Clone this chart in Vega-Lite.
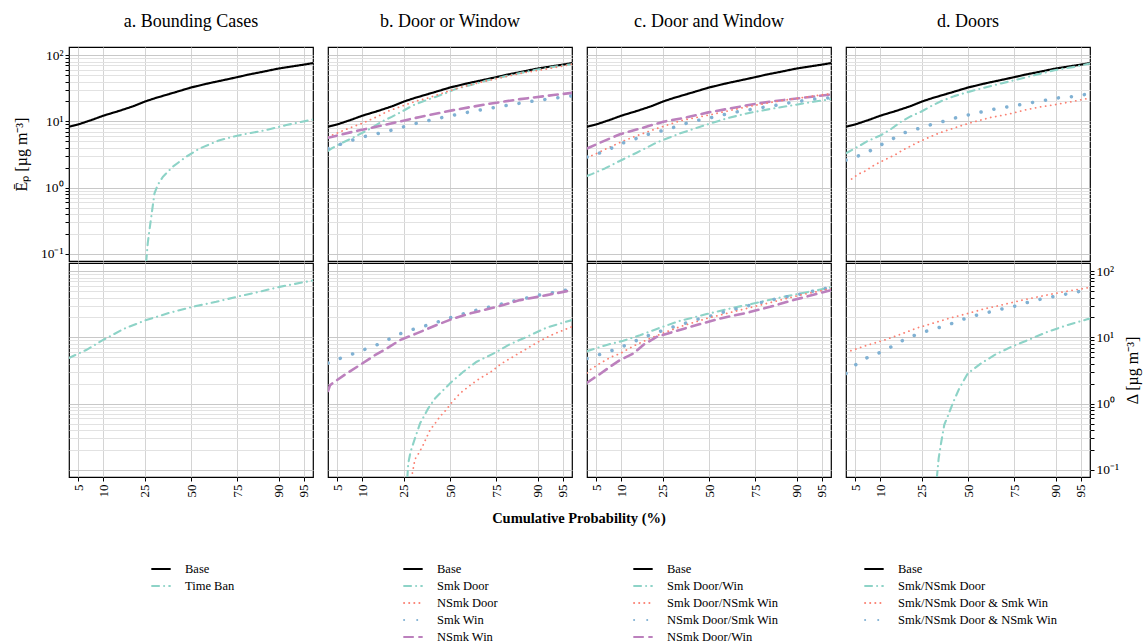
{
"$schema":"https://vega.github.io/schema/vega-lite/v6.json",
"background":"white",
"padding":{"left":12,"top":12,"right":5,"bottom":0},
"spacing":13,
"title":{"text":"Cumulative Probability (%)","orient":"bottom","offset":-132,"fontSize":14.5,"fontWeight":"bold","font":"Liberation Serif, Times New Roman, serif","anchor":"middle","frame":"bounds","dx":2},
"config":{"font":"Liberation Serif, Times New Roman, serif","view":{"stroke":"#000000","strokeWidth":1.2},
"axis":{"labelFont":"Liberation Serif, Times New Roman, serif","titleFont":"Liberation Serif, Times New Roman, serif","labelColor":"#000000","titleColor":"#000000","gridWidth":1,"tickColor":"#000000"},
"title":{"font":"Liberation Serif, Times New Roman, serif","fontWeight":"normal","fontSize":18,"color":"#000000","anchor":"middle"},
"legend":{"labelFont":"Liberation Serif, Times New Roman, serif","labelColor":"#000000"}},
"datasets":{"d":[
{"c":"all","r":"E","s":"Base","z":-1.78,"v":8.3},{"c":"all","r":"E","s":"Base","z":-1.645,"v":9.0},{"c":"all","r":"E","s":"Base","z":-1.44,"v":10.6},{"c":"all","r":"E","s":"Base","z":-1.28,"v":12.2},{"c":"all","r":"E","s":"Base","z":-1.04,"v":14.5},{"c":"all","r":"E","s":"Base","z":-0.84,"v":17.0},{"c":"all","r":"E","s":"Base","z":-0.67,"v":20.0},{"c":"all","r":"E","s":"Base","z":-0.52,"v":22.5},{"c":"all","r":"E","s":"Base","z":-0.25,"v":27.2},{"c":"all","r":"E","s":"Base","z":0,"v":32.5},{"c":"all","r":"E","s":"Base","z":0.25,"v":37.5},{"c":"all","r":"E","s":"Base","z":0.52,"v":43},{"c":"all","r":"E","s":"Base","z":0.67,"v":46.5},{"c":"all","r":"E","s":"Base","z":0.84,"v":51},{"c":"all","r":"E","s":"Base","z":1.04,"v":56},{"c":"all","r":"E","s":"Base","z":1.28,"v":63},{"c":"all","r":"E","s":"Base","z":1.645,"v":72},{"c":"all","r":"E","s":"Base","z":1.78,"v":76},

{"c":"a","r":"E","s":"Time Ban","z":-0.654,"v":0.075},{"c":"a","r":"E","s":"Time Ban","z":-0.631,"v":0.145},{"c":"a","r":"E","s":"Time Ban","z":-0.606,"v":0.23},{"c":"a","r":"E","s":"Time Ban","z":-0.566,"v":0.46},{"c":"a","r":"E","s":"Time Ban","z":-0.533,"v":0.82},{"c":"a","r":"E","s":"Time Ban","z":-0.485,"v":1.1},{"c":"a","r":"E","s":"Time Ban","z":-0.412,"v":1.45},{"c":"a","r":"E","s":"Time Ban","z":-0.266,"v":2.07},{"c":"a","r":"E","s":"Time Ban","z":-0.07,"v":2.93},{"c":"a","r":"E","s":"Time Ban","z":0.124,"v":3.9},{"c":"a","r":"E","s":"Time Ban","z":0.416,"v":5.2},{"c":"a","r":"E","s":"Time Ban","z":0.708,"v":6.2},{"c":"a","r":"E","s":"Time Ban","z":1.098,"v":7.4},{"c":"a","r":"E","s":"Time Ban","z":1.39,"v":8.8},{"c":"a","r":"E","s":"Time Ban","z":1.78,"v":10.7},

{"c":"a","r":"D","s":"Time Ban","z":-1.78,"v":4.9},{"c":"a","r":"D","s":"Time Ban","z":-1.53,"v":6.45},{"c":"a","r":"D","s":"Time Ban","z":-1.288,"v":9.1},{"c":"a","r":"D","s":"Time Ban","z":-0.971,"v":13.6},{"c":"a","r":"D","s":"Time Ban","z":-0.654,"v":18.3},{"c":"a","r":"D","s":"Time Ban","z":-0.314,"v":23.5},{"c":"a","r":"D","s":"Time Ban","z":0.026,"v":29},{"c":"a","r":"D","s":"Time Ban","z":0.368,"v":34.5},{"c":"a","r":"D","s":"Time Ban","z":0.708,"v":42},{"c":"a","r":"D","s":"Time Ban","z":1.0,"v":48.9},{"c":"a","r":"D","s":"Time Ban","z":1.292,"v":58},{"c":"a","r":"D","s":"Time Ban","z":1.78,"v":72.5},

{"c":"b","r":"E","s":"Smk Door","z":-1.78,"v":3.6},{"c":"b","r":"E","s":"Smk Door","z":-1.742,"v":3.83},{"c":"b","r":"E","s":"Smk Door","z":-1.59,"v":4.67},{"c":"b","r":"E","s":"Smk Door","z":-1.435,"v":5.55},{"c":"b","r":"E","s":"Smk Door","z":-1.17,"v":7.7},{"c":"b","r":"E","s":"Smk Door","z":-0.997,"v":9.9},{"c":"b","r":"E","s":"Smk Door","z":-0.851,"v":11.7},{"c":"b","r":"E","s":"Smk Door","z":-0.69,"v":14.3},{"c":"b","r":"E","s":"Smk Door","z":-0.545,"v":17.4},{"c":"b","r":"E","s":"Smk Door","z":-0.39,"v":20.2},{"c":"b","r":"E","s":"Smk Door","z":-0.234,"v":23},{"c":"b","r":"E","s":"Smk Door","z":-0.073,"v":26.4},{"c":"b","r":"E","s":"Smk Door","z":0.088,"v":31},{"c":"b","r":"E","s":"Smk Door","z":0.244,"v":34.1},{"c":"b","r":"E","s":"Smk Door","z":0.52,"v":41},{"c":"b","r":"E","s":"Smk Door","z":0.84,"v":49},{"c":"b","r":"E","s":"Smk Door","z":1.28,"v":61},{"c":"b","r":"E","s":"Smk Door","z":1.645,"v":70},{"c":"b","r":"E","s":"Smk Door","z":1.78,"v":73},

{"c":"b","r":"E","s":"NSmk Door","z":-1.78,"v":5.8},{"c":"b","r":"E","s":"NSmk Door","z":-1.752,"v":6.0},{"c":"b","r":"E","s":"NSmk Door","z":-1.508,"v":7.65},{"c":"b","r":"E","s":"NSmk Door","z":-1.266,"v":9.5},{"c":"b","r":"E","s":"NSmk Door","z":-1.047,"v":12},{"c":"b","r":"E","s":"NSmk Door","z":-0.924,"v":14},{"c":"b","r":"E","s":"NSmk Door","z":-0.705,"v":17},{"c":"b","r":"E","s":"NSmk Door","z":-0.486,"v":20.4},{"c":"b","r":"E","s":"NSmk Door","z":-0.34,"v":22.2},{"c":"b","r":"E","s":"NSmk Door","z":-0.098,"v":27},{"c":"b","r":"E","s":"NSmk Door","z":0.146,"v":32.6},{"c":"b","r":"E","s":"NSmk Door","z":0.536,"v":41},{"c":"b","r":"E","s":"NSmk Door","z":1.022,"v":53},{"c":"b","r":"E","s":"NSmk Door","z":1.508,"v":64.5},{"c":"b","r":"E","s":"NSmk Door","z":1.78,"v":73},

{"c":"b","r":"E","s":"Smk Win","z":-1.78,"v":3.9},{"c":"b","r":"E","s":"Smk Win","z":-1.727,"v":4.06},{"c":"b","r":"E","s":"Smk Win","z":-1.324,"v":5.66},{"c":"b","r":"E","s":"Smk Win","z":-0.909,"v":7.1},{"c":"b","r":"E","s":"Smk Win","z":-0.501,"v":9.3},{"c":"b","r":"E","s":"Smk Win","z":-0.088,"v":11.6},{"c":"b","r":"E","s":"Smk Win","z":0.331,"v":14.2},{"c":"b","r":"E","s":"Smk Win","z":0.755,"v":16.9},{"c":"b","r":"E","s":"Smk Win","z":1.168,"v":20},{"c":"b","r":"E","s":"Smk Win","z":1.596,"v":23},{"c":"b","r":"E","s":"Smk Win","z":1.78,"v":24.4},

{"c":"b","r":"E","s":"NSmk Win","z":-1.78,"v":5.66},{"c":"b","r":"E","s":"NSmk Win","z":-1.412,"v":7},{"c":"b","r":"E","s":"NSmk Win","z":-0.924,"v":9},{"c":"b","r":"E","s":"NSmk Win","z":-0.438,"v":11.7},{"c":"b","r":"E","s":"NSmk Win","z":0.048,"v":14.8},{"c":"b","r":"E","s":"NSmk Win","z":0.536,"v":18.2},{"c":"b","r":"E","s":"NSmk Win","z":1.022,"v":21.7},{"c":"b","r":"E","s":"NSmk Win","z":1.508,"v":25},{"c":"b","r":"E","s":"NSmk Win","z":1.78,"v":27},

{"c":"b","r":"D","s":"Smk Win","z":-1.78,"v":4.1},{"c":"b","r":"D","s":"Smk Win","z":-1.712,"v":4.4},{"c":"b","r":"D","s":"Smk Win","z":-1.508,"v":5.2},{"c":"b","r":"D","s":"Smk Win","z":-1.314,"v":6.2},{"c":"b","r":"D","s":"Smk Win","z":-1.12,"v":7.3},{"c":"b","r":"D","s":"Smk Win","z":-0.934,"v":8.9},{"c":"b","r":"D","s":"Smk Win","z":-0.755,"v":11.1},{"c":"b","r":"D","s":"Smk Win","z":-0.555,"v":13.1},{"c":"b","r":"D","s":"Smk Win","z":-0.35,"v":15.1},{"c":"b","r":"D","s":"Smk Win","z":-0.156,"v":17.4},{"c":"b","r":"D","s":"Smk Win","z":0.048,"v":20.5},{"c":"b","r":"D","s":"Smk Win","z":0.244,"v":23.5},{"c":"b","r":"D","s":"Smk Win","z":0.448,"v":26.8},{"c":"b","r":"D","s":"Smk Win","z":0.657,"v":30},{"c":"b","r":"D","s":"Smk Win","z":0.861,"v":34.1},{"c":"b","r":"D","s":"Smk Win","z":1.07,"v":38.3},{"c":"b","r":"D","s":"Smk Win","z":1.274,"v":43},{"c":"b","r":"D","s":"Smk Win","z":1.485,"v":47.2},{"c":"b","r":"D","s":"Smk Win","z":1.693,"v":51.8},{"c":"b","r":"D","s":"Smk Win","z":1.78,"v":53.5},

{"c":"b","r":"D","s":"NSmk Win","z":-1.78,"v":1.55},{"c":"b","r":"D","s":"NSmk Win","z":-1.75,"v":1.9},{"c":"b","r":"D","s":"NSmk Win","z":-1.704,"v":2.07},{"c":"b","r":"D","s":"NSmk Win","z":-1.508,"v":2.86},{"c":"b","r":"D","s":"NSmk Win","z":-1.314,"v":3.83},{"c":"b","r":"D","s":"NSmk Win","z":-1.095,"v":5.4},{"c":"b","r":"D","s":"NSmk Win","z":-0.924,"v":6.8},{"c":"b","r":"D","s":"NSmk Win","z":-0.73,"v":9.1},{"c":"b","r":"D","s":"NSmk Win","z":-0.486,"v":11.5},{"c":"b","r":"D","s":"NSmk Win","z":-0.194,"v":15.4},{"c":"b","r":"D","s":"NSmk Win","z":0.048,"v":19.3},{"c":"b","r":"D","s":"NSmk Win","z":0.292,"v":23},{"c":"b","r":"D","s":"NSmk Win","z":0.682,"v":29},{"c":"b","r":"D","s":"NSmk Win","z":1.022,"v":36.6},{"c":"b","r":"D","s":"NSmk Win","z":1.412,"v":43.5},{"c":"b","r":"D","s":"NSmk Win","z":1.78,"v":51.8},

{"c":"b","r":"D","s":"Smk Door","z":-0.623,"v":0.075},{"c":"b","r":"D","s":"Smk Door","z":-0.609,"v":0.126},{"c":"b","r":"D","s":"Smk Door","z":-0.574,"v":0.19},{"c":"b","r":"D","s":"Smk Door","z":-0.511,"v":0.3},{"c":"b","r":"D","s":"Smk Door","z":-0.438,"v":0.5},{"c":"b","r":"D","s":"Smk Door","z":-0.317,"v":0.85},{"c":"b","r":"D","s":"Smk Door","z":-0.219,"v":1.2},{"c":"b","r":"D","s":"Smk Door","z":-0.098,"v":1.6},{"c":"b","r":"D","s":"Smk Door","z":0.025,"v":2.14},{"c":"b","r":"D","s":"Smk Door","z":0.194,"v":3.03},{"c":"b","r":"D","s":"Smk Door","z":0.39,"v":4.3},{"c":"b","r":"D","s":"Smk Door","z":0.632,"v":5.7},{"c":"b","r":"D","s":"Smk Door","z":0.876,"v":7.9},{"c":"b","r":"D","s":"Smk Door","z":1.12,"v":10.2},{"c":"b","r":"D","s":"Smk Door","z":1.412,"v":14.1},{"c":"b","r":"D","s":"Smk Door","z":1.78,"v":18.3},

{"c":"b","r":"D","s":"NSmk Door","z":-0.562,"v":0.075},{"c":"b","r":"D","s":"NSmk Door","z":-0.511,"v":0.145},{"c":"b","r":"D","s":"NSmk Door","z":-0.453,"v":0.18},{"c":"b","r":"D","s":"NSmk Door","z":-0.39,"v":0.24},{"c":"b","r":"D","s":"NSmk Door","z":-0.292,"v":0.4},{"c":"b","r":"D","s":"NSmk Door","z":-0.219,"v":0.5},{"c":"b","r":"D","s":"NSmk Door","z":-0.146,"v":0.64},{"c":"b","r":"D","s":"NSmk Door","z":-0.058,"v":0.8},{"c":"b","r":"D","s":"NSmk Door","z":0.015,"v":1.01},{"c":"b","r":"D","s":"NSmk Door","z":0.146,"v":1.43},{"c":"b","r":"D","s":"NSmk Door","z":0.267,"v":1.8},{"c":"b","r":"D","s":"NSmk Door","z":0.365,"v":2.14},{"c":"b","r":"D","s":"NSmk Door","z":0.463,"v":2.5},{"c":"b","r":"D","s":"NSmk Door","z":0.584,"v":2.95},{"c":"b","r":"D","s":"NSmk Door","z":0.755,"v":4.05},{"c":"b","r":"D","s":"NSmk Door","z":0.876,"v":4.8},{"c":"b","r":"D","s":"NSmk Door","z":1.07,"v":6.3},{"c":"b","r":"D","s":"NSmk Door","z":1.289,"v":8.6},{"c":"b","r":"D","s":"NSmk Door","z":1.508,"v":11.2},{"c":"b","r":"D","s":"NSmk Door","z":1.742,"v":14},{"c":"b","r":"D","s":"NSmk Door","z":1.78,"v":14.5},

{"c":"c","r":"E","s":"NSmk Door/Win","z":-1.78,"v":3.9},{"c":"c","r":"E","s":"NSmk Door/Win","z":-1.591,"v":4.77},{"c":"c","r":"E","s":"NSmk Door/Win","z":-1.299,"v":6.4},{"c":"c","r":"E","s":"NSmk Door/Win","z":-1.007,"v":7.8},{"c":"c","r":"E","s":"NSmk Door/Win","z":-0.667,"v":9.9},{"c":"c","r":"E","s":"NSmk Door/Win","z":-0.326,"v":11.5},{"c":"c","r":"E","s":"NSmk Door/Win","z":-0.01,"v":13.7},{"c":"c","r":"E","s":"NSmk Door/Win","z":0.307,"v":15.7},{"c":"c","r":"E","s":"NSmk Door/Win","z":0.647,"v":18.2},{"c":"c","r":"E","s":"NSmk Door/Win","z":0.939,"v":20.2},{"c":"c","r":"E","s":"NSmk Door/Win","z":1.28,"v":22.2},{"c":"c","r":"E","s":"NSmk Door/Win","z":1.62,"v":24.4},{"c":"c","r":"E","s":"NSmk Door/Win","z":1.78,"v":25.5},

{"c":"c","r":"E","s":"Smk Door/NSmk Win","z":-1.78,"v":2.9},{"c":"c","r":"E","s":"Smk Door/NSmk Win","z":-1.689,"v":3.1},{"c":"c","r":"E","s":"Smk Door/NSmk Win","z":-1.493,"v":3.9},{"c":"c","r":"E","s":"Smk Door/NSmk Win","z":-1.251,"v":5.05},{"c":"c","r":"E","s":"Smk Door/NSmk Win","z":-1.032,"v":6.2},{"c":"c","r":"E","s":"Smk Door/NSmk Win","z":-0.788,"v":7.65},{"c":"c","r":"E","s":"Smk Door/NSmk Win","z":-0.423,"v":10.2},{"c":"c","r":"E","s":"Smk Door/NSmk Win","z":0.063,"v":12.9},{"c":"c","r":"E","s":"Smk Door/NSmk Win","z":0.55,"v":16.6},{"c":"c","r":"E","s":"Smk Door/NSmk Win","z":1.036,"v":20.5},{"c":"c","r":"E","s":"Smk Door/NSmk Win","z":1.718,"v":25.8},{"c":"c","r":"E","s":"Smk Door/NSmk Win","z":1.78,"v":26.3},

{"c":"c","r":"E","s":"NSmk Door/Smk Win","z":-1.78,"v":2.9},{"c":"c","r":"E","s":"NSmk Door/Smk Win","z":-1.689,"v":3.07},{"c":"c","r":"E","s":"NSmk Door/Smk Win","z":-1.479,"v":3.7},{"c":"c","r":"E","s":"NSmk Door/Smk Win","z":-1.289,"v":4.6},{"c":"c","r":"E","s":"NSmk Door/Smk Win","z":-1.091,"v":5.36},{"c":"c","r":"E","s":"NSmk Door/Smk Win","z":-0.895,"v":6.37},{"c":"c","r":"E","s":"NSmk Door/Smk Win","z":-0.691,"v":7.2},{"c":"c","r":"E","s":"NSmk Door/Smk Win","z":-0.486,"v":8.3},{"c":"c","r":"E","s":"NSmk Door/Smk Win","z":-0.288,"v":9.67},{"c":"c","r":"E","s":"NSmk Door/Smk Win","z":-0.083,"v":10.8},{"c":"c","r":"E","s":"NSmk Door/Smk Win","z":0.127,"v":12},{"c":"c","r":"E","s":"NSmk Door/Smk Win","z":0.331,"v":13.5},{"c":"c","r":"E","s":"NSmk Door/Smk Win","z":0.54,"v":14.7},{"c":"c","r":"E","s":"NSmk Door/Smk Win","z":0.755,"v":16.1},{"c":"c","r":"E","s":"NSmk Door/Smk Win","z":0.964,"v":17.4},{"c":"c","r":"E","s":"NSmk Door/Smk Win","z":1.172,"v":19.1},{"c":"c","r":"E","s":"NSmk Door/Smk Win","z":1.391,"v":20.7},{"c":"c","r":"E","s":"NSmk Door/Smk Win","z":1.61,"v":22.2},{"c":"c","r":"E","s":"NSmk Door/Smk Win","z":1.78,"v":22.8},

{"c":"c","r":"E","s":"Smk Door/Win","z":-1.78,"v":1.5},{"c":"c","r":"E","s":"Smk Door/Win","z":-1.712,"v":1.6},{"c":"c","r":"E","s":"Smk Door/Win","z":-1.518,"v":1.95},{"c":"c","r":"E","s":"Smk Door/Win","z":-1.347,"v":2.4},{"c":"c","r":"E","s":"Smk Door/Win","z":-1.055,"v":3.37},{"c":"c","r":"E","s":"Smk Door/Win","z":-0.764,"v":4.8},{"c":"c","r":"E","s":"Smk Door/Win","z":-0.423,"v":6.6},{"c":"c","r":"E","s":"Smk Door/Win","z":-0.083,"v":8.6},{"c":"c","r":"E","s":"Smk Door/Win","z":0.258,"v":11.1},{"c":"c","r":"E","s":"Smk Door/Win","z":0.55,"v":13.2},{"c":"c","r":"E","s":"Smk Door/Win","z":0.891,"v":15.4},{"c":"c","r":"E","s":"Smk Door/Win","z":1.231,"v":17.6},{"c":"c","r":"E","s":"Smk Door/Win","z":1.523,"v":19.8},{"c":"c","r":"E","s":"Smk Door/Win","z":1.78,"v":21.7},

{"c":"c","r":"D","s":"Smk Door/Win","z":-1.78,"v":6.2},{"c":"c","r":"D","s":"Smk Door/Win","z":-1.493,"v":7.7},{"c":"c","r":"D","s":"Smk Door/Win","z":-1.251,"v":8.9},{"c":"c","r":"D","s":"Smk Door/Win","z":-1.007,"v":10.8},{"c":"c","r":"D","s":"Smk Door/Win","z":-0.715,"v":14},{"c":"c","r":"D","s":"Smk Door/Win","z":-0.423,"v":17.8},{"c":"c","r":"D","s":"Smk Door/Win","z":-0.034,"v":22.5},{"c":"c","r":"D","s":"Smk Door/Win","z":0.307,"v":27.3},{"c":"c","r":"D","s":"Smk Door/Win","z":0.647,"v":32.5},{"c":"c","r":"D","s":"Smk Door/Win","z":1.036,"v":40},{"c":"c","r":"D","s":"Smk Door/Win","z":1.328,"v":46},{"c":"c","r":"D","s":"Smk Door/Win","z":1.742,"v":56},{"c":"c","r":"D","s":"Smk Door/Win","z":1.78,"v":57},

{"c":"c","r":"D","s":"NSmk Door/Smk Win","z":-1.78,"v":4.8},{"c":"c","r":"D","s":"NSmk Door/Smk Win","z":-1.747,"v":4.93},{"c":"c","r":"D","s":"NSmk Door/Smk Win","z":-1.552,"v":5.7},{"c":"c","r":"D","s":"NSmk Door/Smk Win","z":-1.347,"v":6.7},{"c":"c","r":"D","s":"NSmk Door/Smk Win","z":-1.153,"v":8.1},{"c":"c","r":"D","s":"NSmk Door/Smk Win","z":-0.968,"v":9.9},{"c":"c","r":"D","s":"NSmk Door/Smk Win","z":-0.774,"v":11.7},{"c":"c","r":"D","s":"NSmk Door/Smk Win","z":-0.58,"v":13.8},{"c":"c","r":"D","s":"NSmk Door/Smk Win","z":-0.384,"v":15.9},{"c":"c","r":"D","s":"NSmk Door/Smk Win","z":-0.18,"v":18.7},{"c":"c","r":"D","s":"NSmk Door/Smk Win","z":0.025,"v":21},{"c":"c","r":"D","s":"NSmk Door/Smk Win","z":0.223,"v":24.4},{"c":"c","r":"D","s":"NSmk Door/Smk Win","z":0.428,"v":27.4},{"c":"c","r":"D","s":"NSmk Door/Smk Win","z":0.638,"v":31.4},{"c":"c","r":"D","s":"NSmk Door/Smk Win","z":0.842,"v":35.3},{"c":"c","r":"D","s":"NSmk Door/Smk Win","z":1.051,"v":39.6},{"c":"c","r":"D","s":"NSmk Door/Smk Win","z":1.266,"v":43.5},{"c":"c","r":"D","s":"NSmk Door/Smk Win","z":1.474,"v":48.8},{"c":"c","r":"D","s":"NSmk Door/Smk Win","z":1.693,"v":54.8},{"c":"c","r":"D","s":"NSmk Door/Smk Win","z":1.78,"v":56},

{"c":"c","r":"D","s":"Smk Door/NSmk Win","z":-1.78,"v":2.9},{"c":"c","r":"D","s":"Smk Door/NSmk Win","z":-1.727,"v":3.29},{"c":"c","r":"D","s":"Smk Door/NSmk Win","z":-1.591,"v":4.05},{"c":"c","r":"D","s":"Smk Door/NSmk Win","z":-1.42,"v":5.1},{"c":"c","r":"D","s":"Smk Door/NSmk Win","z":-1.299,"v":5.7},{"c":"c","r":"D","s":"Smk Door/NSmk Win","z":-1.105,"v":7.4},{"c":"c","r":"D","s":"Smk Door/NSmk Win","z":-0.861,"v":9.66},{"c":"c","r":"D","s":"Smk Door/NSmk Win","z":-0.618,"v":12.2},{"c":"c","r":"D","s":"Smk Door/NSmk Win","z":-0.423,"v":14.5},{"c":"c","r":"D","s":"Smk Door/NSmk Win","z":-0.034,"v":19.3},{"c":"c","r":"D","s":"Smk Door/NSmk Win","z":0.355,"v":24.4},{"c":"c","r":"D","s":"Smk Door/NSmk Win","z":0.647,"v":29},{"c":"c","r":"D","s":"Smk Door/NSmk Win","z":1.036,"v":36.6},{"c":"c","r":"D","s":"Smk Door/NSmk Win","z":1.328,"v":43.5},{"c":"c","r":"D","s":"Smk Door/NSmk Win","z":1.718,"v":52.8},{"c":"c","r":"D","s":"Smk Door/NSmk Win","z":1.78,"v":54},

{"c":"c","r":"D","s":"NSmk Door/Win","z":-1.78,"v":2.07},{"c":"c","r":"D","s":"NSmk Door/Win","z":-1.689,"v":2.4},{"c":"c","r":"D","s":"NSmk Door/Win","z":-1.591,"v":2.8},{"c":"c","r":"D","s":"NSmk Door/Win","z":-1.445,"v":3.6},{"c":"c","r":"D","s":"NSmk Door/Win","z":-1.299,"v":4.55},{"c":"c","r":"D","s":"NSmk Door/Win","z":-1.105,"v":5.7},{"c":"c","r":"D","s":"NSmk Door/Win","z":-0.959,"v":7.7},{"c":"c","r":"D","s":"NSmk Door/Win","z":-0.764,"v":10.2},{"c":"c","r":"D","s":"NSmk Door/Win","z":-0.472,"v":12.6},{"c":"c","r":"D","s":"NSmk Door/Win","z":-0.18,"v":15.4},{"c":"c","r":"D","s":"NSmk Door/Win","z":0.161,"v":19.3},{"c":"c","r":"D","s":"NSmk Door/Win","z":0.55,"v":23.5},{"c":"c","r":"D","s":"NSmk Door/Win","z":0.891,"v":29},{"c":"c","r":"D","s":"NSmk Door/Win","z":1.231,"v":36.6},{"c":"c","r":"D","s":"NSmk Door/Win","z":1.523,"v":44},{"c":"c","r":"D","s":"NSmk Door/Win","z":1.78,"v":51.8},

{"c":"d","r":"E","s":"Smk/NSmk Door","z":-1.78,"v":3.3},{"c":"d","r":"E","s":"Smk/NSmk Door","z":-1.587,"v":4.25},{"c":"d","r":"E","s":"Smk/NSmk Door","z":-1.464,"v":5.05},{"c":"d","r":"E","s":"Smk/NSmk Door","z":-1.27,"v":6.2},{"c":"d","r":"E","s":"Smk/NSmk Door","z":-1.124,"v":7.66},{"c":"d","r":"E","s":"Smk/NSmk Door","z":-0.978,"v":9.9},{"c":"d","r":"E","s":"Smk/NSmk Door","z":-0.832,"v":12},{"c":"d","r":"E","s":"Smk/NSmk Door","z":-0.686,"v":14},{"c":"d","r":"E","s":"Smk/NSmk Door","z":-0.54,"v":17},{"c":"d","r":"E","s":"Smk/NSmk Door","z":-0.394,"v":20.2},{"c":"d","r":"E","s":"Smk/NSmk Door","z":-0.2,"v":24.1},{"c":"d","r":"E","s":"Smk/NSmk Door","z":-0.004,"v":27.7},{"c":"d","r":"E","s":"Smk/NSmk Door","z":0.19,"v":31.4},{"c":"d","r":"E","s":"Smk/NSmk Door","z":0.482,"v":37.4},{"c":"d","r":"E","s":"Smk/NSmk Door","z":0.872,"v":47},{"c":"d","r":"E","s":"Smk/NSmk Door","z":1.26,"v":59.4},{"c":"d","r":"E","s":"Smk/NSmk Door","z":1.552,"v":66.7},{"c":"d","r":"E","s":"Smk/NSmk Door","z":1.78,"v":75},

{"c":"d","r":"E","s":"Smk/NSmk Door & NSmk Win","z":-1.78,"v":2.6},{"c":"d","r":"E","s":"Smk/NSmk Door & NSmk Win","z":-1.669,"v":2.83},{"c":"d","r":"E","s":"Smk/NSmk Door & NSmk Win","z":-1.479,"v":3.37},{"c":"d","r":"E","s":"Smk/NSmk Door & NSmk Win","z":-1.304,"v":4.25},{"c":"d","r":"E","s":"Smk/NSmk Door & NSmk Win","z":-1.114,"v":5.36},{"c":"d","r":"E","s":"Smk/NSmk Door & NSmk Win","z":-0.939,"v":6.7},{"c":"d","r":"E","s":"Smk/NSmk Door & NSmk Win","z":-0.734,"v":7.74},{"c":"d","r":"E","s":"Smk/NSmk Door & NSmk Win","z":-0.53,"v":9.0},{"c":"d","r":"E","s":"Smk/NSmk Door & NSmk Win","z":-0.331,"v":10.2},{"c":"d","r":"E","s":"Smk/NSmk Door & NSmk Win","z":-0.131,"v":11.7},{"c":"d","r":"E","s":"Smk/NSmk Door & NSmk Win","z":0.077,"v":13},{"c":"d","r":"E","s":"Smk/NSmk Door & NSmk Win","z":0.277,"v":14.6},{"c":"d","r":"E","s":"Smk/NSmk Door & NSmk Win","z":0.496,"v":16.1},{"c":"d","r":"E","s":"Smk/NSmk Door & NSmk Win","z":0.701,"v":17.4},{"c":"d","r":"E","s":"Smk/NSmk Door & NSmk Win","z":0.909,"v":19.1},{"c":"d","r":"E","s":"Smk/NSmk Door & NSmk Win","z":1.124,"v":20.8},{"c":"d","r":"E","s":"Smk/NSmk Door & NSmk Win","z":1.333,"v":22.8},{"c":"d","r":"E","s":"Smk/NSmk Door & NSmk Win","z":1.552,"v":23.8},{"c":"d","r":"E","s":"Smk/NSmk Door & NSmk Win","z":1.78,"v":26.3},

{"c":"d","r":"E","s":"Smk/NSmk Door & Smk Win","z":-1.698,"v":1.35},{"c":"d","r":"E","s":"Smk/NSmk Door & Smk Win","z":-1.601,"v":1.6},{"c":"d","r":"E","s":"Smk/NSmk Door & Smk Win","z":-1.489,"v":1.8},{"c":"d","r":"E","s":"Smk/NSmk Door & Smk Win","z":-1.391,"v":2.12},{"c":"d","r":"E","s":"Smk/NSmk Door & Smk Win","z":-1.28,"v":2.44},{"c":"d","r":"E","s":"Smk/NSmk Door & Smk Win","z":-1.172,"v":2.77},{"c":"d","r":"E","s":"Smk/NSmk Door & Smk Win","z":-1.061,"v":3.14},{"c":"d","r":"E","s":"Smk/NSmk Door & Smk Win","z":-0.949,"v":3.7},{"c":"d","r":"E","s":"Smk/NSmk Door & Smk Win","z":-0.734,"v":4.82},{"c":"d","r":"E","s":"Smk/NSmk Door & Smk Win","z":-0.515,"v":6.08},{"c":"d","r":"E","s":"Smk/NSmk Door & Smk Win","z":-0.394,"v":6.83},{"c":"d","r":"E","s":"Smk/NSmk Door & Smk Win","z":-0.15,"v":8.3},{"c":"d","r":"E","s":"Smk/NSmk Door & Smk Win","z":0.092,"v":9.9},{"c":"d","r":"E","s":"Smk/NSmk Door & Smk Win","z":0.336,"v":11.5},{"c":"d","r":"E","s":"Smk/NSmk Door & Smk Win","z":0.58,"v":12.8},{"c":"d","r":"E","s":"Smk/NSmk Door & Smk Win","z":0.823,"v":14.8},{"c":"d","r":"E","s":"Smk/NSmk Door & Smk Win","z":1.066,"v":16.6},{"c":"d","r":"E","s":"Smk/NSmk Door & Smk Win","z":1.309,"v":18.2},{"c":"d","r":"E","s":"Smk/NSmk Door & Smk Win","z":1.552,"v":20.2},{"c":"d","r":"E","s":"Smk/NSmk Door & Smk Win","z":1.78,"v":22.5},

{"c":"d","r":"D","s":"Smk/NSmk Door & Smk Win","z":-1.708,"v":6.3},{"c":"d","r":"D","s":"Smk/NSmk Door & Smk Win","z":-1.464,"v":7.67},{"c":"d","r":"D","s":"Smk/NSmk Door & Smk Win","z":-1.222,"v":9.1},{"c":"d","r":"D","s":"Smk/NSmk Door & Smk Win","z":-0.978,"v":11.2},{"c":"d","r":"D","s":"Smk/NSmk Door & Smk Win","z":-0.734,"v":14},{"c":"d","r":"D","s":"Smk/NSmk Door & Smk Win","z":-0.492,"v":16.6},{"c":"d","r":"D","s":"Smk/NSmk Door & Smk Win","z":-0.248,"v":19.8},{"c":"d","r":"D","s":"Smk/NSmk Door & Smk Win","z":-0.004,"v":23},{"c":"d","r":"D","s":"Smk/NSmk Door & Smk Win","z":0.238,"v":27},{"c":"d","r":"D","s":"Smk/NSmk Door & Smk Win","z":0.482,"v":30.7},{"c":"d","r":"D","s":"Smk/NSmk Door & Smk Win","z":0.726,"v":35.3},{"c":"d","r":"D","s":"Smk/NSmk Door & Smk Win","z":0.968,"v":40},{"c":"d","r":"D","s":"Smk/NSmk Door & Smk Win","z":1.26,"v":46},{"c":"d","r":"D","s":"Smk/NSmk Door & Smk Win","z":1.455,"v":50},{"c":"d","r":"D","s":"Smk/NSmk Door & Smk Win","z":1.601,"v":52.8},{"c":"d","r":"D","s":"Smk/NSmk Door & Smk Win","z":1.78,"v":57},

{"c":"d","r":"D","s":"Smk/NSmk Door & NSmk Win","z":-1.78,"v":2.86},{"c":"d","r":"D","s":"Smk/NSmk Door & NSmk Win","z":-1.645,"v":3.83},{"c":"d","r":"D","s":"Smk/NSmk Door & NSmk Win","z":-1.464,"v":5},{"c":"d","r":"D","s":"Smk/NSmk Door & NSmk Win","z":-1.28,"v":5.94},{"c":"d","r":"D","s":"Smk/NSmk Door & NSmk Win","z":-1.099,"v":7.4},{"c":"d","r":"D","s":"Smk/NSmk Door & NSmk Win","z":-0.915,"v":9.45},{"c":"d","r":"D","s":"Smk/NSmk Door & NSmk Win","z":-0.726,"v":11.3},{"c":"d","r":"D","s":"Smk/NSmk Door & NSmk Win","z":-0.526,"v":13.2},{"c":"d","r":"D","s":"Smk/NSmk Door & NSmk Win","z":-0.321,"v":15},{"c":"d","r":"D","s":"Smk/NSmk Door & NSmk Win","z":-0.127,"v":18},{"c":"d","r":"D","s":"Smk/NSmk Door & NSmk Win","z":0.069,"v":21},{"c":"d","r":"D","s":"Smk/NSmk Door & NSmk Win","z":0.277,"v":23.6},{"c":"d","r":"D","s":"Smk/NSmk Door & NSmk Win","z":0.482,"v":26.7},{"c":"d","r":"D","s":"Smk/NSmk Door & NSmk Win","z":0.686,"v":29.7},{"c":"d","r":"D","s":"Smk/NSmk Door & NSmk Win","z":0.895,"v":34.4},{"c":"d","r":"D","s":"Smk/NSmk Door & NSmk Win","z":1.105,"v":38.7},{"c":"d","r":"D","s":"Smk/NSmk Door & NSmk Win","z":1.309,"v":42.5},{"c":"d","r":"D","s":"Smk/NSmk Door & NSmk Win","z":1.518,"v":47.1},{"c":"d","r":"D","s":"Smk/NSmk Door & NSmk Win","z":1.733,"v":51.8},{"c":"d","r":"D","s":"Smk/NSmk Door & NSmk Win","z":1.78,"v":53},

{"c":"d","r":"D","s":"Smk/NSmk Door","z":-0.455,"v":0.075},{"c":"d","r":"D","s":"Smk/NSmk Door","z":-0.428,"v":0.149},{"c":"d","r":"D","s":"Smk/NSmk Door","z":-0.394,"v":0.25},{"c":"d","r":"D","s":"Smk/NSmk Door","z":-0.346,"v":0.48},{"c":"d","r":"D","s":"Smk/NSmk Door","z":-0.296,"v":0.64},{"c":"d","r":"D","s":"Smk/NSmk Door","z":-0.223,"v":1.01},{"c":"d","r":"D","s":"Smk/NSmk Door","z":-0.127,"v":1.7},{"c":"d","r":"D","s":"Smk/NSmk Door","z":-0.004,"v":2.86},{"c":"d","r":"D","s":"Smk/NSmk Door","z":0.19,"v":4.05},{"c":"d","r":"D","s":"Smk/NSmk Door","z":0.384,"v":5.4},{"c":"d","r":"D","s":"Smk/NSmk Door","z":0.628,"v":7.2},{"c":"d","r":"D","s":"Smk/NSmk Door","z":0.872,"v":9.1},{"c":"d","r":"D","s":"Smk/NSmk Door","z":1.164,"v":12.2},{"c":"d","r":"D","s":"Smk/NSmk Door","z":1.455,"v":15.4},{"c":"d","r":"D","s":"Smk/NSmk Door","z":1.747,"v":18.9},{"c":"d","r":"D","s":"Smk/NSmk Door","z":1.78,"v":19.2}
]},
"hconcat":[
{"vconcat":[
 {"width":244,"height":214,"title":{"text":"a. Bounding Cases","offset":16},"data":{"name":"d"},
  "transform":[{"filter":"datum.r=='E'&&(datum.c=='a'||datum.c=='all')"}],
  "mark":{"type":"line","clip":true,"strokeCap":"round","strokeJoin":"round"},
  "encoding":{
   "x":{"field":"z","type":"quantitative","scale":{"domain":[-1.78,1.78],"nice":false,"zero":false},"axis":{"values":[-1.6449,-1.2816,-0.6745,0,0.6745,1.2816,1.6449],"labels":false,"ticks":false,"domain":false,"title":null,"gridColor":"#d4d4d4"}},
   "y":{"field":"v","type":"quantitative","scale":{"type":"log","domain":[0.078,133],"nice":false},"axis":{"values":[0.1,0.2,0.3,0.4,0.5,0.6,0.7,0.8,0.9,1,2,3,4,5,6,7,8,9,10,20,30,40,50,60,70,80,90,100],"labelExpr":"datum.value==100?'10²':datum.value==10?'10¹':datum.value==1?'10⁰':datum.value==0.1?'10⁻¹':''","title":"Ēₚ  [µg m⁻³]","titleFontSize":16,"titleFontWeight":"normal","titlePadding":11,"labelFontSize":13.5,"labelPadding":2,"labelFont":"Liberation Serif, Times New Roman, serif","titleFont":"Liberation Serif, Times New Roman, serif","domain":false,"tickSize":4,"gridColor":{"condition":{"test":"datum.value==0.1||datum.value==1||datum.value==10||datum.value==100","value":"#c8c8c8"},"value":"#e2e2e2"}}},
   "color":{"field":"s","type":"nominal","scale":{"domain":["Base","Time Ban"],"range":["#000000","#8dd3c7"]},"legend":{"title":null,"orient":"none","legendX":82,"legendY":512,"direction":"vertical","symbolType":"stroke","symbolSize":320,"symbolStrokeWidth":2,"labelFontSize":12.5,"labelFont":"Liberation Serif, Times New Roman, serif","labelOffset":14,"rowPadding":0,"encode":{"symbols":{"update":{"strokeCap":{"value":"round"}}}}}},
   "strokeDash":{"field":"s","type":"nominal","scale":{"domain":["Base","Time Ban"],"range":[[1,0],[7,5,0.1,5]]},"legend":{"title":null,"orient":"none","legendX":82,"legendY":512,"direction":"vertical","symbolType":"stroke","symbolSize":320,"symbolStrokeWidth":2,"labelFontSize":12.5,"labelFont":"Liberation Serif, Times New Roman, serif","labelOffset":14,"rowPadding":0,"encode":{"symbols":{"update":{"strokeCap":{"value":"round"}}}}}},
   "strokeWidth":{"value":2.1}
  }},
 {"width":244,"height":214,"data":{"name":"d"},
  "transform":[{"filter":"datum.r=='D'&&datum.c=='a'"}],
  "mark":{"type":"line","clip":true,"strokeCap":"round","strokeJoin":"round"},
  "encoding":{
   "x":{"field":"z","type":"quantitative","scale":{"domain":[-1.78,1.78],"nice":false,"zero":false},"axis":{"values":[-1.6449,-1.2816,-0.6745,0,0.6745,1.2816,1.6449],"labelExpr":"datum.value<-1.5?'5':datum.value<-1?'10':datum.value<-0.3?'25':datum.value<0.3?'50':datum.value<1?'75':datum.value<1.5?'90':'95'","labelAngle":-90,"labelFontSize":13,"labelFont":"Liberation Serif, Times New Roman, serif","labelPadding":3,"tickSize":4,"domain":false,"title":null,"gridColor":"#d4d4d4"}},
   "y":{"field":"v","type":"quantitative","scale":{"type":"log","domain":[0.078,133],"nice":false},"axis":{"values":[0.1,0.2,0.3,0.4,0.5,0.6,0.7,0.8,0.9,1,2,3,4,5,6,7,8,9,10,20,30,40,50,60,70,80,90,100],"labels":false,"ticks":false,"domain":false,"title":null,"gridColor":{"condition":{"test":"datum.value==0.1||datum.value==1||datum.value==10||datum.value==100","value":"#c8c8c8"},"value":"#e2e2e2"}}},
   "color":{"field":"s","type":"nominal","scale":{"domain":["Base","Time Ban"],"range":["#000000","#8dd3c7"]},"legend":{"title":null,"orient":"none","legendX":82,"legendY":512,"direction":"vertical","symbolType":"stroke","symbolSize":320,"symbolStrokeWidth":2,"labelFontSize":12.5,"labelFont":"Liberation Serif, Times New Roman, serif","labelOffset":14,"rowPadding":0,"encode":{"symbols":{"update":{"strokeCap":{"value":"round"}}}}}},
   "strokeDash":{"field":"s","type":"nominal","scale":{"domain":["Base","Time Ban"],"range":[[1,0],[7,5,0.1,5]]},"legend":{"title":null,"orient":"none","legendX":82,"legendY":512,"direction":"vertical","symbolType":"stroke","symbolSize":320,"symbolStrokeWidth":2,"labelFontSize":12.5,"labelFont":"Liberation Serif, Times New Roman, serif","labelOffset":14,"rowPadding":0,"encode":{"symbols":{"update":{"strokeCap":{"value":"round"}}}}}},
   "strokeWidth":{"value":2.1}
  }}
 ],"spacing":0,"resolve":{"scale":{"color":"shared","strokeDash":"shared"}}},

{"vconcat":[
 {"width":244,"height":214,"title":{"text":"b. Door or Window","offset":16},"data":{"name":"d"},
  "transform":[{"filter":"datum.r=='E'&&(datum.c=='b'||datum.c=='all')"}],
  "mark":{"type":"line","clip":true,"strokeCap":"round","strokeJoin":"round"},
  "encoding":{
   "x":{"field":"z","type":"quantitative","scale":{"domain":[-1.78,1.78],"nice":false,"zero":false},"axis":{"values":[-1.6449,-1.2816,-0.6745,0,0.6745,1.2816,1.6449],"labels":false,"ticks":false,"domain":false,"title":null,"gridColor":"#d4d4d4"}},
   "y":{"field":"v","type":"quantitative","scale":{"type":"log","domain":[0.078,133],"nice":false},"axis":{"values":[0.1,0.2,0.3,0.4,0.5,0.6,0.7,0.8,0.9,1,2,3,4,5,6,7,8,9,10,20,30,40,50,60,70,80,90,100],"labels":false,"ticks":false,"domain":false,"title":null,"gridColor":{"condition":{"test":"datum.value==0.1||datum.value==1||datum.value==10||datum.value==100","value":"#c8c8c8"},"value":"#e2e2e2"}}},
   "color":{"field":"s","type":"nominal","scale":{"domain":["Base","Smk Door","NSmk Door","Smk Win","NSmk Win"],"range":["#000000","#8dd3c7","#fb8072","#80b1d3","#bc80bd"]},"legend":{"title":null,"orient":"none","legendX":75,"legendY":512,"direction":"vertical","symbolType":"stroke","symbolSize":320,"symbolStrokeWidth":2,"labelFontSize":12.5,"labelFont":"Liberation Serif, Times New Roman, serif","labelOffset":14,"rowPadding":0,"encode":{"symbols":{"update":{"strokeCap":{"value":"round"}}}}}},
   "strokeDash":{"field":"s","type":"nominal","scale":{"domain":["Base","Smk Door","NSmk Door","Smk Win","NSmk Win"],"range":[[1,0],[7,5,0.1,5],[0.1,5],[0.1,13],[9,6]]},"legend":{"title":null,"orient":"none","legendX":75,"legendY":512,"direction":"vertical","symbolType":"stroke","symbolSize":320,"symbolStrokeWidth":2,"labelFontSize":12.5,"labelFont":"Liberation Serif, Times New Roman, serif","labelOffset":14,"rowPadding":0,"encode":{"symbols":{"update":{"strokeCap":{"value":"round"}}}}}},
   "strokeWidth":{"condition":[{"test":"datum.s=='Smk Win'","value":3.5},{"test":"datum.s=='NSmk Win'","value":2.6},{"test":"datum.s=='NSmk Door'","value":1.8}],"value":2.1}
  }},
 {"width":244,"height":214,"data":{"name":"d"},
  "transform":[{"filter":"datum.r=='D'&&datum.c=='b'"}],
  "mark":{"type":"line","clip":true,"strokeCap":"round","strokeJoin":"round"},
  "encoding":{
   "x":{"field":"z","type":"quantitative","scale":{"domain":[-1.78,1.78],"nice":false,"zero":false},"axis":{"values":[-1.6449,-1.2816,-0.6745,0,0.6745,1.2816,1.6449],"labelExpr":"datum.value<-1.5?'5':datum.value<-1?'10':datum.value<-0.3?'25':datum.value<0.3?'50':datum.value<1?'75':datum.value<1.5?'90':'95'","labelAngle":-90,"labelFontSize":13,"labelFont":"Liberation Serif, Times New Roman, serif","labelPadding":3,"tickSize":4,"domain":false,"title":null,"gridColor":"#d4d4d4"}},
   "y":{"field":"v","type":"quantitative","scale":{"type":"log","domain":[0.078,133],"nice":false},"axis":{"values":[0.1,0.2,0.3,0.4,0.5,0.6,0.7,0.8,0.9,1,2,3,4,5,6,7,8,9,10,20,30,40,50,60,70,80,90,100],"labels":false,"ticks":false,"domain":false,"title":null,"gridColor":{"condition":{"test":"datum.value==0.1||datum.value==1||datum.value==10||datum.value==100","value":"#c8c8c8"},"value":"#e2e2e2"}}},
   "color":{"field":"s","type":"nominal","scale":{"domain":["Base","Smk Door","NSmk Door","Smk Win","NSmk Win"],"range":["#000000","#8dd3c7","#fb8072","#80b1d3","#bc80bd"]},"legend":{"title":null,"orient":"none","legendX":75,"legendY":512,"direction":"vertical","symbolType":"stroke","symbolSize":320,"symbolStrokeWidth":2,"labelFontSize":12.5,"labelFont":"Liberation Serif, Times New Roman, serif","labelOffset":14,"rowPadding":0,"encode":{"symbols":{"update":{"strokeCap":{"value":"round"}}}}}},
   "strokeDash":{"field":"s","type":"nominal","scale":{"domain":["Base","Smk Door","NSmk Door","Smk Win","NSmk Win"],"range":[[1,0],[7,5,0.1,5],[0.1,5],[0.1,13],[9,6]]},"legend":{"title":null,"orient":"none","legendX":75,"legendY":512,"direction":"vertical","symbolType":"stroke","symbolSize":320,"symbolStrokeWidth":2,"labelFontSize":12.5,"labelFont":"Liberation Serif, Times New Roman, serif","labelOffset":14,"rowPadding":0,"encode":{"symbols":{"update":{"strokeCap":{"value":"round"}}}}}},
   "strokeWidth":{"condition":[{"test":"datum.s=='Smk Win'","value":3.5},{"test":"datum.s=='NSmk Win'","value":2.6},{"test":"datum.s=='NSmk Door'","value":1.8}],"value":2.1}
  }}
 ],"spacing":0,"resolve":{"scale":{"color":"shared","strokeDash":"shared"}}},

{"vconcat":[
 {"width":244,"height":214,"title":{"text":"c. Door and Window","offset":16},"data":{"name":"d"},
  "transform":[{"filter":"datum.r=='E'&&(datum.c=='c'||datum.c=='all')"}],
  "mark":{"type":"line","clip":true,"strokeCap":"round","strokeJoin":"round"},
  "encoding":{
   "x":{"field":"z","type":"quantitative","scale":{"domain":[-1.78,1.78],"nice":false,"zero":false},"axis":{"values":[-1.6449,-1.2816,-0.6745,0,0.6745,1.2816,1.6449],"labels":false,"ticks":false,"domain":false,"title":null,"gridColor":"#d4d4d4"}},
   "y":{"field":"v","type":"quantitative","scale":{"type":"log","domain":[0.078,133],"nice":false},"axis":{"values":[0.1,0.2,0.3,0.4,0.5,0.6,0.7,0.8,0.9,1,2,3,4,5,6,7,8,9,10,20,30,40,50,60,70,80,90,100],"labels":false,"ticks":false,"domain":false,"title":null,"gridColor":{"condition":{"test":"datum.value==0.1||datum.value==1||datum.value==10||datum.value==100","value":"#c8c8c8"},"value":"#e2e2e2"}}},
   "color":{"field":"s","type":"nominal","scale":{"domain":["Base","Smk Door/Win","Smk Door/NSmk Win","NSmk Door/Smk Win","NSmk Door/Win"],"range":["#000000","#8dd3c7","#fb8072","#80b1d3","#bc80bd"]},"legend":{"title":null,"orient":"none","legendX":46,"legendY":512,"direction":"vertical","symbolType":"stroke","symbolSize":320,"symbolStrokeWidth":2,"labelFontSize":12.5,"labelFont":"Liberation Serif, Times New Roman, serif","labelOffset":14,"rowPadding":0,"encode":{"symbols":{"update":{"strokeCap":{"value":"round"}}}}}},
   "strokeDash":{"field":"s","type":"nominal","scale":{"domain":["Base","Smk Door/Win","Smk Door/NSmk Win","NSmk Door/Smk Win","NSmk Door/Win"],"range":[[1,0],[7,5,0.1,5],[0.1,5],[0.1,13],[9,6]]},"legend":{"title":null,"orient":"none","legendX":46,"legendY":512,"direction":"vertical","symbolType":"stroke","symbolSize":320,"symbolStrokeWidth":2,"labelFontSize":12.5,"labelFont":"Liberation Serif, Times New Roman, serif","labelOffset":14,"rowPadding":0,"encode":{"symbols":{"update":{"strokeCap":{"value":"round"}}}}}},
   "strokeWidth":{"condition":[{"test":"datum.s=='NSmk Door/Smk Win'","value":3.5},{"test":"datum.s=='NSmk Door/Win'","value":2.6},{"test":"datum.s=='Smk Door/NSmk Win'","value":1.8}],"value":2.1}
  }},
 {"width":244,"height":214,"data":{"name":"d"},
  "transform":[{"filter":"datum.r=='D'&&datum.c=='c'"}],
  "mark":{"type":"line","clip":true,"strokeCap":"round","strokeJoin":"round"},
  "encoding":{
   "x":{"field":"z","type":"quantitative","scale":{"domain":[-1.78,1.78],"nice":false,"zero":false},"axis":{"values":[-1.6449,-1.2816,-0.6745,0,0.6745,1.2816,1.6449],"labelExpr":"datum.value<-1.5?'5':datum.value<-1?'10':datum.value<-0.3?'25':datum.value<0.3?'50':datum.value<1?'75':datum.value<1.5?'90':'95'","labelAngle":-90,"labelFontSize":13,"labelFont":"Liberation Serif, Times New Roman, serif","labelPadding":3,"tickSize":4,"domain":false,"title":null,"gridColor":"#d4d4d4"}},
   "y":{"field":"v","type":"quantitative","scale":{"type":"log","domain":[0.078,133],"nice":false},"axis":{"values":[0.1,0.2,0.3,0.4,0.5,0.6,0.7,0.8,0.9,1,2,3,4,5,6,7,8,9,10,20,30,40,50,60,70,80,90,100],"labels":false,"ticks":false,"domain":false,"title":null,"gridColor":{"condition":{"test":"datum.value==0.1||datum.value==1||datum.value==10||datum.value==100","value":"#c8c8c8"},"value":"#e2e2e2"}}},
   "color":{"field":"s","type":"nominal","scale":{"domain":["Base","Smk Door/Win","Smk Door/NSmk Win","NSmk Door/Smk Win","NSmk Door/Win"],"range":["#000000","#8dd3c7","#fb8072","#80b1d3","#bc80bd"]},"legend":{"title":null,"orient":"none","legendX":46,"legendY":512,"direction":"vertical","symbolType":"stroke","symbolSize":320,"symbolStrokeWidth":2,"labelFontSize":12.5,"labelFont":"Liberation Serif, Times New Roman, serif","labelOffset":14,"rowPadding":0,"encode":{"symbols":{"update":{"strokeCap":{"value":"round"}}}}}},
   "strokeDash":{"field":"s","type":"nominal","scale":{"domain":["Base","Smk Door/Win","Smk Door/NSmk Win","NSmk Door/Smk Win","NSmk Door/Win"],"range":[[1,0],[7,5,0.1,5],[0.1,5],[0.1,13],[9,6]]},"legend":{"title":null,"orient":"none","legendX":46,"legendY":512,"direction":"vertical","symbolType":"stroke","symbolSize":320,"symbolStrokeWidth":2,"labelFontSize":12.5,"labelFont":"Liberation Serif, Times New Roman, serif","labelOffset":14,"rowPadding":0,"encode":{"symbols":{"update":{"strokeCap":{"value":"round"}}}}}},
   "strokeWidth":{"condition":[{"test":"datum.s=='NSmk Door/Smk Win'","value":3.5},{"test":"datum.s=='NSmk Door/Win'","value":2.6},{"test":"datum.s=='Smk Door/NSmk Win'","value":1.8}],"value":2.1}
  }}
 ],"spacing":0,"resolve":{"scale":{"color":"shared","strokeDash":"shared"}}},

{"vconcat":[
 {"width":244,"height":214,"title":{"text":"d. Doors","offset":16},"data":{"name":"d"},
  "transform":[{"filter":"datum.r=='E'&&(datum.c=='d'||datum.c=='all')"}],
  "mark":{"type":"line","clip":true,"strokeCap":"round","strokeJoin":"round"},
  "encoding":{
   "x":{"field":"z","type":"quantitative","scale":{"domain":[-1.78,1.78],"nice":false,"zero":false},"axis":{"values":[-1.6449,-1.2816,-0.6745,0,0.6745,1.2816,1.6449],"labels":false,"ticks":false,"domain":false,"title":null,"gridColor":"#d4d4d4"}},
   "y":{"field":"v","type":"quantitative","scale":{"type":"log","domain":[0.078,133],"nice":false},"axis":{"values":[0.1,0.2,0.3,0.4,0.5,0.6,0.7,0.8,0.9,1,2,3,4,5,6,7,8,9,10,20,30,40,50,60,70,80,90,100],"labels":false,"ticks":false,"domain":false,"title":null,"gridColor":{"condition":{"test":"datum.value==0.1||datum.value==1||datum.value==10||datum.value==100","value":"#c8c8c8"},"value":"#e2e2e2"}}},
   "color":{"field":"s","type":"nominal","scale":{"domain":["Base","Smk/NSmk Door","Smk/NSmk Door & Smk Win","Smk/NSmk Door & NSmk Win"],"range":["#000000","#8dd3c7","#fb8072","#80b1d3"]},"legend":{"title":null,"orient":"none","legendX":18,"legendY":512,"direction":"vertical","symbolType":"stroke","symbolSize":320,"symbolStrokeWidth":2,"labelFontSize":12.5,"labelFont":"Liberation Serif, Times New Roman, serif","labelOffset":14,"rowPadding":0,"encode":{"symbols":{"update":{"strokeCap":{"value":"round"}}}}}},
   "strokeDash":{"field":"s","type":"nominal","scale":{"domain":["Base","Smk/NSmk Door","Smk/NSmk Door & Smk Win","Smk/NSmk Door & NSmk Win"],"range":[[1,0],[7,5,0.1,5],[0.1,5],[0.1,13]]},"legend":{"title":null,"orient":"none","legendX":18,"legendY":512,"direction":"vertical","symbolType":"stroke","symbolSize":320,"symbolStrokeWidth":2,"labelFontSize":12.5,"labelFont":"Liberation Serif, Times New Roman, serif","labelOffset":14,"rowPadding":0,"encode":{"symbols":{"update":{"strokeCap":{"value":"round"}}}}}},
   "strokeWidth":{"condition":[{"test":"datum.s=='Smk/NSmk Door & NSmk Win'","value":3.5},{"test":"datum.s=='Smk/NSmk Door & Smk Win'","value":1.8}],"value":2.1}
  }},
 {"width":244,"height":214,"data":{"name":"d"},
  "transform":[{"filter":"datum.r=='D'&&datum.c=='d'"}],
  "mark":{"type":"line","clip":true,"strokeCap":"round","strokeJoin":"round"},
  "encoding":{
   "x":{"field":"z","type":"quantitative","scale":{"domain":[-1.78,1.78],"nice":false,"zero":false},"axis":{"values":[-1.6449,-1.2816,-0.6745,0,0.6745,1.2816,1.6449],"labelExpr":"datum.value<-1.5?'5':datum.value<-1?'10':datum.value<-0.3?'25':datum.value<0.3?'50':datum.value<1?'75':datum.value<1.5?'90':'95'","labelAngle":-90,"labelFontSize":13,"labelFont":"Liberation Serif, Times New Roman, serif","labelPadding":3,"tickSize":4,"domain":false,"title":null,"gridColor":"#d4d4d4"}},
   "y":{"field":"v","type":"quantitative","scale":{"type":"log","domain":[0.078,133],"nice":false},"axis":{"orient":"right","values":[0.1,0.2,0.3,0.4,0.5,0.6,0.7,0.8,0.9,1,2,3,4,5,6,7,8,9,10,20,30,40,50,60,70,80,90,100],"labelExpr":"datum.value==100?'10²':datum.value==10?'10¹':datum.value==1?'10⁰':datum.value==0.1?'10⁻¹':''","title":"Δ [µg m⁻³]","titleAngle":270,"titleBaseline":"top","titleFontSize":16,"titleFontWeight":"normal","titlePadding":6,"labelFontSize":13.5,"labelFont":"Liberation Serif, Times New Roman, serif","titleFont":"Liberation Serif, Times New Roman, serif","labelPadding":2,"domain":false,"tickSize":4,"gridColor":{"condition":{"test":"datum.value==0.1||datum.value==1||datum.value==10||datum.value==100","value":"#c8c8c8"},"value":"#e2e2e2"}}},
   "color":{"field":"s","type":"nominal","scale":{"domain":["Base","Smk/NSmk Door","Smk/NSmk Door & Smk Win","Smk/NSmk Door & NSmk Win"],"range":["#000000","#8dd3c7","#fb8072","#80b1d3"]},"legend":{"title":null,"orient":"none","legendX":18,"legendY":512,"direction":"vertical","symbolType":"stroke","symbolSize":320,"symbolStrokeWidth":2,"labelFontSize":12.5,"labelFont":"Liberation Serif, Times New Roman, serif","labelOffset":14,"rowPadding":0,"encode":{"symbols":{"update":{"strokeCap":{"value":"round"}}}}}},
   "strokeDash":{"field":"s","type":"nominal","scale":{"domain":["Base","Smk/NSmk Door","Smk/NSmk Door & Smk Win","Smk/NSmk Door & NSmk Win"],"range":[[1,0],[7,5,0.1,5],[0.1,5],[0.1,13]]},"legend":{"title":null,"orient":"none","legendX":18,"legendY":512,"direction":"vertical","symbolType":"stroke","symbolSize":320,"symbolStrokeWidth":2,"labelFontSize":12.5,"labelFont":"Liberation Serif, Times New Roman, serif","labelOffset":14,"rowPadding":0,"encode":{"symbols":{"update":{"strokeCap":{"value":"round"}}}}}},
   "strokeWidth":{"condition":[{"test":"datum.s=='Smk/NSmk Door & NSmk Win'","value":3.5},{"test":"datum.s=='Smk/NSmk Door & Smk Win'","value":1.8}],"value":2.1}
  }}
 ],"spacing":0,"resolve":{"scale":{"color":"shared","strokeDash":"shared"}}}
],
"resolve":{"scale":{"color":"independent","strokeDash":"independent"},"legend":{"color":"independent","strokeDash":"independent"}}
}
